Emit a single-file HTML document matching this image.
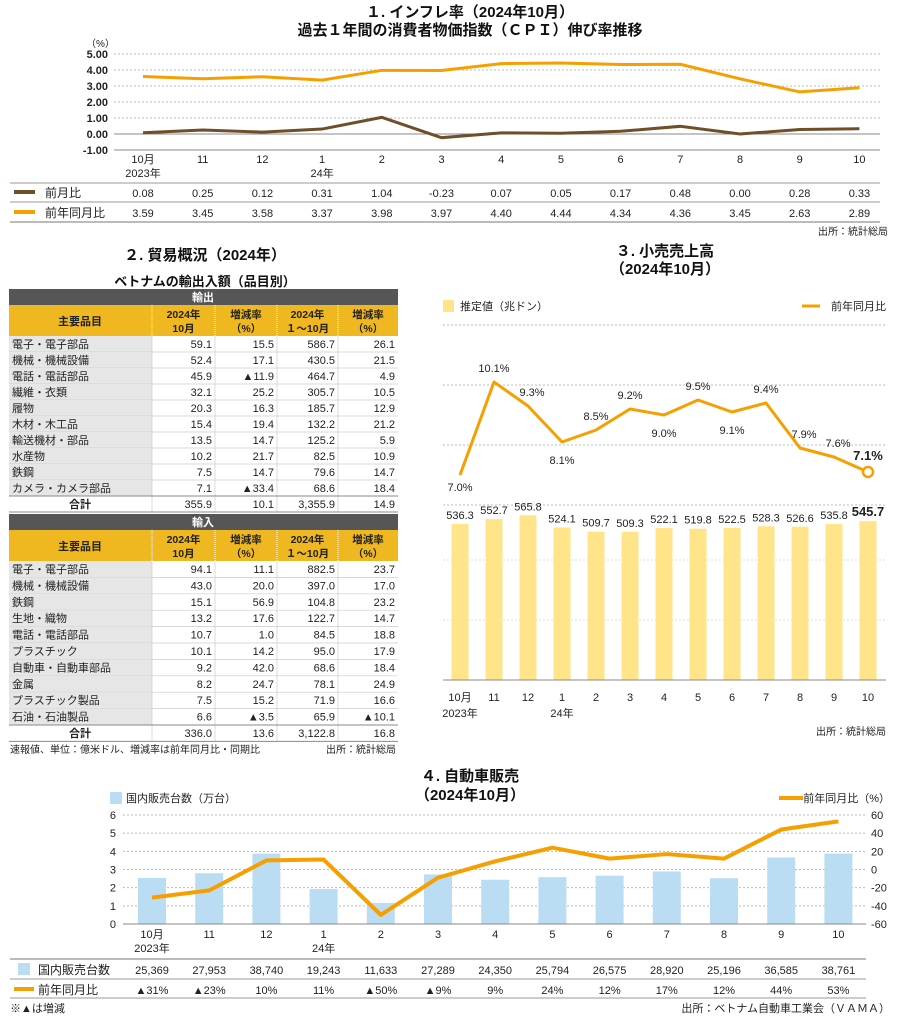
<!DOCTYPE html>
<html><head><meta charset="utf-8">
<style>
body{margin:0;background:#fff}
svg{display:block;font-family:"Liberation Sans","Noto Sans CJK JP",sans-serif}
</style></head>
<body>
<svg id="s" width="900" height="1018" viewBox="0 0 900 1018" xmlns="http://www.w3.org/2000/svg">
<g font-weight="bold" font-size="15" text-anchor="middle" fill="#111">
<text x="470" y="17">１. インフレ率（2024年10月）</text>
<text x="470" y="35">過去１年間の消費者物価指数（ＣＰＩ）伸び率推移</text>
<text x="205" y="260">２. 貿易概況（2024年）</text>
<text x="205" y="286" font-size="13">ベトナムの輸出入額（品目別）</text>
<text x="665" y="256">３. 小売売上高</text>
<text x="665" y="274">（2024年10月）</text>
<text x="470" y="781">４. 自動車販売</text>
<text x="470" y="800">（2024年10月）</text>
</g>
<g id="c1"></g>
<g id="c2"></g>
<g id="c3"></g>
<g id="c4"></g>
</svg>
<script>
// ---- Chart 1 data ----
const cpiMonths = ["10月","11","12","1","2","3","4","5","6","7","8","9","10"];
const cpiMonthSub = ["2023年","","","24年","","","","","","","","",""];
const cpiMoM = [0.08,0.25,0.12,0.31,1.04,-0.23,0.07,0.05,0.17,0.48,0.00,0.28,0.33];
const cpiYoY = [3.59,3.45,3.58,3.37,3.98,3.97,4.40,4.44,4.34,4.36,3.45,2.63,2.89];
const cpiTicks = [5,4,3,2,1,0,-1];
// ---- Trade data ----
const expItems = ["電子・電子部品","機械・機械設備","電話・電話部品","繊維・衣類","履物","木材・木工品","輸送機材・部品","水産物","鉄鋼","カメラ・カメラ部品"];
const expOct = ["59.1","52.4","45.9","32.1","20.3","15.4","13.5","10.2","7.5","7.1"];
const expOctRate = ["15.5","17.1","▲11.9","25.2","16.3","19.4","14.7","21.7","14.7","▲33.4"];
const expYtd = ["586.7","430.5","464.7","305.7","185.7","132.2","125.2","82.5","79.6","68.6"];
const expYtdRate = ["26.1","21.5","4.9","10.5","12.9","21.2","5.9","10.9","14.7","18.4"];
const expTotal = ["355.9","10.1","3,355.9","14.9"];
const impItems = ["電子・電子部品","機械・機械設備","鉄鋼","生地・織物","電話・電話部品","プラスチック","自動車・自動車部品","金属","プラスチック製品","石油・石油製品"];
const impOct = ["94.1","43.0","15.1","13.2","10.7","10.1","9.2","8.2","7.5","6.6"];
const impOctRate = ["11.1","20.0","56.9","17.6","1.0","14.2","42.0","24.7","15.2","▲3.5"];
const impYtd = ["882.5","397.0","104.8","122.7","84.5","95.0","68.6","78.1","71.9","65.9"];
const impYtdRate = ["23.7","17.0","23.2","14.7","18.8","17.9","18.4","24.9","16.6","▲10.1"];
const impTotal = ["336.0","13.6","3,122.8","16.8"];
// ---- Retail data ----
const rtMonths = ["10月","11","12","1","2","3","4","5","6","7","8","9","10"];
const rtValues = [536.3,552.7,565.8,524.1,509.7,509.3,522.1,519.8,522.5,528.3,526.6,535.8,545.7];
const rtYoY = [7.0,10.1,9.3,8.1,8.5,9.2,9.0,9.5,9.1,9.4,7.9,7.6,7.1];
// ---- Auto data ----
const autoMonths = ["10月","11","12","1","2","3","4","5","6","7","8","9","10"];
const autoUnits = [25369,27953,38740,19243,11633,27289,24350,25794,26575,28920,25196,36585,38761];
const autoYoY = [-31,-23,10,11,-50,-9,9,24,12,17,12,44,53];
const autoLeftTicks = [0,1,2,3,4,5,6];
const autoRightTicks = [-60,-40,-20,0,20,40,60];

const NS="http://www.w3.org/2000/svg";
function mk(p,tag,a,txt){const e=document.createElementNS(NS,tag);for(const k in a)e.setAttribute(k,a[k]);if(txt!==undefined)e.textContent=txt;p.appendChild(e);return e;}
const ORANGE="#F5A000", BROWN="#6E4F2A";

// ===== Chart 1 =====
(function(){
const g=document.getElementById('c1');
const x=i=>143+i*59.7, y=v=>134-v*16;
mk(g,'text',{x:86,y:47,'font-size':10,fill:'#222'},'（%）');
cpiTicks.forEach(t=>{
  const ln=mk(g,'line',{x1:114,x2:880,y1:y(t),y2:y(t),stroke:t===0?'#888':'#bbb','stroke-dasharray':t===0?'':'2,2','stroke-width':1});
  
  
  const tx=mk(g,'text',{x:108,y:y(t)+4,'text-anchor':'end','font-size':11,'font-weight':'bold',fill:'#222'},t.toFixed(2));
  
  
});
mk(g,'line',{x1:114,x2:880,y1:150,y2:150,stroke:'#888'});
cpiMonths.forEach((m,i)=>{
  const t=mk(g,'text',{x:x(i),y:163,'text-anchor':'middle','font-size':11,fill:'#222'},m);
  
  
  if(cpiMonthSub[i]) mk(g,'text',{x:x(i),y:177,'text-anchor':'middle','font-size':11,fill:'#222'},cpiMonthSub[i]);
});
const p1=mk(g,'polyline',{points:cpiYoY.map((v,i)=>x(i)+','+y(v)).join(' '),fill:'none',stroke:ORANGE,'stroke-width':3});


const p2=mk(g,'polyline',{points:cpiMoM.map((v,i)=>x(i)+','+y(v)).join(' '),fill:'none',stroke:BROWN,'stroke-width':3});


mk(g,'line',{x1:10,x2:880,y1:183,y2:183,stroke:'#999'});
mk(g,'line',{x1:10,x2:880,y1:202,y2:202,stroke:'#999'});
mk(g,'line',{x1:10,x2:880,y1:222,y2:222,stroke:'#bbb','stroke-width':2});
mk(g,'line',{x1:14,x2:35,y1:192,y2:192,stroke:BROWN,'stroke-width':4});
mk(g,'line',{x1:14,x2:35,y1:212,y2:212,stroke:ORANGE,'stroke-width':4});
mk(g,'text',{x:45,y:197,'font-size':12,fill:'#222'},'前月比');
mk(g,'text',{x:45,y:217,'font-size':12,fill:'#222'},'前年同月比');
cpiMoM.forEach((v,i)=>{
  const t=mk(g,'text',{x:x(i),y:197,'text-anchor':'middle','font-size':11,fill:'#222'},v.toFixed(2));
  
  
});
cpiYoY.forEach((v,i)=>{
  const t=mk(g,'text',{x:x(i),y:217,'text-anchor':'middle','font-size':11,fill:'#222'},v.toFixed(2));
  
  
});
mk(g,'text',{x:888,y:235,'text-anchor':'end','font-size':10,fill:'#222'},'出所：統計総局');
})();

// ===== Trade table =====
(function(){
const g=document.getElementById('c2');
const cols=[9,152,215,277,338,398];
function block(top,RH,title,items,a,b,c,d,tot){
  mk(g,'rect',{x:9,y:top,width:389,height:16,fill:'#565656'});
  mk(g,'text',{x:203,y:top+12,'text-anchor':'middle','font-size':11,'font-weight':'bold',fill:'#fff'},title);
  const h=top+16;
  mk(g,'rect',{x:9,y:h,width:389,height:31,fill:'#EFB820'});
  for(let k=1;k<5;k++) mk(g,'line',{x1:cols[k],x2:cols[k],y1:h,y2:h+31,stroke:'#fff','stroke-dasharray':'1,1'});
  mk(g,'text',{x:80,y:h+20,'text-anchor':'middle','font-size':11,'font-weight':'bold',fill:'#222'},'主要品目');
  const hd=[['2024年','10月'],['増減率','（%）'],['2024年','１～10月'],['増減率','（%）']];
  hd.forEach((s,k)=>{const cx=(cols[k+1]+cols[k+2])/2;
    mk(g,'text',{x:cx,y:h+13,'text-anchor':'middle','font-size':10.5,'font-weight':'bold',fill:'#222'},s[0]);
    mk(g,'text',{x:cx,y:h+27,'text-anchor':'middle','font-size':10.5,'font-weight':'bold',fill:'#222'},s[1]);});
  let y0=h+31;
  items.forEach((it,i)=>{
    const ry=y0+i*RH;
    mk(g,'rect',{x:9,y:ry,width:143,height:RH,fill:'#E6E6E6'});
    mk(g,'line',{x1:9,x2:398,y1:ry+RH,y2:ry+RH,stroke:'#ccc','stroke-width':0.7});
    const r=mk(g,'text',{x:12,y:ry+12,'font-size':11,fill:'#222'},it);
    
    
    [a[i],b[i],c[i],d[i]].forEach((v,k)=>{
      const t=mk(g,'text',{x:cols[k+2]-3,y:ry+12,'text-anchor':'end','font-size':11,fill:'#222'},v);
      
      
    });
  });
  for(let k=1;k<5;k++) mk(g,'line',{x1:cols[k],x2:cols[k],y1:y0,y2:y0+RH*11,stroke:'#ccc','stroke-width':0.7});
  const ty=y0+items.length*RH;
  mk(g,'line',{x1:9,x2:398,y1:ty,y2:ty,stroke:'#888'});
  mk(g,'text',{x:80,y:ty+12,'text-anchor':'middle','font-size':11,'font-weight':'bold',fill:'#222'},'合計');
  tot.forEach((v,k)=>mk(g,'text',{x:cols[k+2]-3,y:ty+12,'text-anchor':'end','font-size':11,fill:'#222'},v));
  mk(g,'line',{x1:9,x2:398,y1:ty+RH,y2:ty+RH,stroke:'#888'});
}
block(289,16.0,'輸出',expItems,expOct,expOctRate,expYtd,expYtdRate,expTotal);
block(514,16.4,'輸入',impItems,impOct,impOctRate,impYtd,impYtdRate,impTotal);
mk(g,'text',{x:10,y:753,'font-size':10,fill:'#222'},'速報値、単位：億米ドル、増減率は前年同月比・同期比');
mk(g,'text',{x:396,y:753,'text-anchor':'end','font-size':10,fill:'#222'},'出所：統計総局');
})();

// ===== Retail chart =====
(function(){
const g=document.getElementById('c3');
const x=i=>460+i*34, y=v=>385+(10-v)*30, by=v=>680-v*0.291;
mk(g,'rect',{x:443,y:300,width:11,height:12,fill:'#FFE48A'});
mk(g,'text',{x:460,y:310,'font-size':11,fill:'#222'},'推定値（兆ドン）');
mk(g,'line',{x1:802,x2:820,y1:306,y2:306,stroke:ORANGE,'stroke-width':3});
mk(g,'text',{x:886,y:310,'text-anchor':'end','font-size':11,fill:'#222'},'前年同月比');
[325,385,445,505].forEach(gy=>mk(g,'line',{x1:443,x2:886,y1:gy,y2:gy,stroke:'#bbb','stroke-dasharray':'2,2'}));
[560,620].forEach(gy=>mk(g,'line',{x1:443,x2:886,y1:gy,y2:gy,stroke:'#ddd','stroke-dasharray':'2,2'}));
rtValues.forEach((v,i)=>{
  const r=mk(g,'rect',{x:x(i)-8.5,y:by(v),width:17,height:680-by(v),fill:'#FFE48A'});
  
  
  const last=i===rtValues.length-1;
  const t=mk(g,'text',{x:x(i),y:by(v)-5,'text-anchor':'middle','font-size':last?13:11,'font-weight':last?'bold':'normal',fill:'#222'},v.toFixed(1));
  
  
});
mk(g,'line',{x1:443,x2:886,y1:680,y2:680,stroke:'#888'});
rtMonths.forEach((m,i)=>{
  mk(g,'text',{x:x(i),y:701,'text-anchor':'middle','font-size':11,fill:'#222'},m);
});
mk(g,'text',{x:x(0),y:717,'text-anchor':'middle','font-size':11,fill:'#222'},'2023年');
mk(g,'text',{x:x(3),y:717,'text-anchor':'middle','font-size':11,fill:'#222'},'24年');
const pl=mk(g,'polyline',{points:rtYoY.map((v,i)=>x(i)+','+y(v)).join(' '),fill:'none',stroke:ORANGE,'stroke-width':3,'stroke-linejoin':'round'});


const n=rtYoY.length-1;
mk(g,'circle',{cx:x(n),cy:y(rtYoY[n]),r:5,fill:'#fff',stroke:ORANGE,'stroke-width':2.5});
const below=[0,3,6,8];
rtYoY.forEach((v,i)=>{
  const last=i===n;
  let ly=below.includes(i)?y(v)+22:y(v)-10;
  if(i===0) ly=y(v)+16;
  if(last) ly=y(v)-12;
  const t=mk(g,'text',{x:x(i)+(i===2||i===10||i===11?4:0),y:ly,'text-anchor':'middle','font-size':last?13:11,'font-weight':last?'bold':'normal',fill:'#222'},v.toFixed(1)+'%');
  
  
});
mk(g,'text',{x:886,y:735,'text-anchor':'end','font-size':10,fill:'#222'},'出所：統計総局');
})();

// ===== Auto chart =====
(function(){
const g=document.getElementById('c4');
const x=i=>152+i*57.2, yl=v=>924-v*18.17, yr=v=>869.5-v*0.9083;
mk(g,'rect',{x:110,y:792,width:12,height:12,fill:'#BBDDF4'});
mk(g,'text',{x:126,y:802,'font-size':11,fill:'#222'},'国内販売台数（万台）');
mk(g,'line',{x1:779,x2:803,y1:798,y2:798,stroke:ORANGE,'stroke-width':4});
mk(g,'text',{x:890,y:802,'text-anchor':'end','font-size':11,fill:'#222'},'前年同月比（%）');
autoLeftTicks.forEach(t=>{
  if(t>0) mk(g,'line',{x1:123,x2:866,y1:yl(t),y2:yl(t),stroke:'#bbb','stroke-dasharray':'2,2'});
  const tx=mk(g,'text',{x:116,y:yl(t)+4,'text-anchor':'end','font-size':11,fill:'#222'},String(t));
  
  
});
autoRightTicks.forEach(t=>{
  const tx=mk(g,'text',{x:871,y:yr(t)+4,'font-size':11,fill:'#222'},String(t));
  
  
});
autoUnits.forEach((v,i)=>{
  const h=v/10000*18.17;
  const r=mk(g,'rect',{x:x(i)-14,y:924-h,width:28,height:h,fill:'#BBDDF4'});
  
  
});
mk(g,'line',{x1:123,x2:866,y1:924,y2:924,stroke:'#888'});
autoMonths.forEach((m,i)=>mk(g,'text',{x:x(i),y:938,'text-anchor':'middle','font-size':11,fill:'#222'},m));
mk(g,'text',{x:x(0),y:952,'text-anchor':'middle','font-size':11,fill:'#222'},'2023年');
mk(g,'text',{x:x(3),y:952,'text-anchor':'middle','font-size':11,fill:'#222'},'24年');
const pl=mk(g,'polyline',{points:autoYoY.map((v,i)=>x(i)+','+yr(v)).join(' '),fill:'none',stroke:ORANGE,'stroke-width':4,'stroke-linejoin':'round'});


mk(g,'line',{x1:10,x2:866,y1:959,y2:959,stroke:'#bbb','stroke-width':2});
mk(g,'line',{x1:10,x2:866,y1:979,y2:979,stroke:'#999'});
mk(g,'line',{x1:10,x2:866,y1:998,y2:998,stroke:'#999'});
mk(g,'rect',{x:18,y:963,width:12,height:12,fill:'#BBDDF4'});
mk(g,'text',{x:38,y:974,'font-size':12,fill:'#222'},'国内販売台数');
mk(g,'line',{x1:14,x2:34,y1:989,y2:989,stroke:ORANGE,'stroke-width':4});
mk(g,'text',{x:38,y:994,'font-size':12,fill:'#222'},'前年同月比');
autoUnits.forEach((v,i)=>{
  const t=mk(g,'text',{x:x(i),y:974,'text-anchor':'middle','font-size':11,fill:'#222'},v.toLocaleString('en-US'));
  
  
});
autoYoY.forEach((v,i)=>{
  const t=mk(g,'text',{x:x(i),y:994,'text-anchor':'middle','font-size':11,fill:'#222'},(v<0?'▲'+(-v):v)+'%');
  
  
});
mk(g,'text',{x:10,y:1012,'font-size':11,fill:'#222'},'※▲は増減');
mk(g,'text',{x:890,y:1012,'text-anchor':'end','font-size':11,fill:'#222'},'出所：ベトナム自動車工業会（ＶＡＭＡ）');
})();
</script>
</body></html>
